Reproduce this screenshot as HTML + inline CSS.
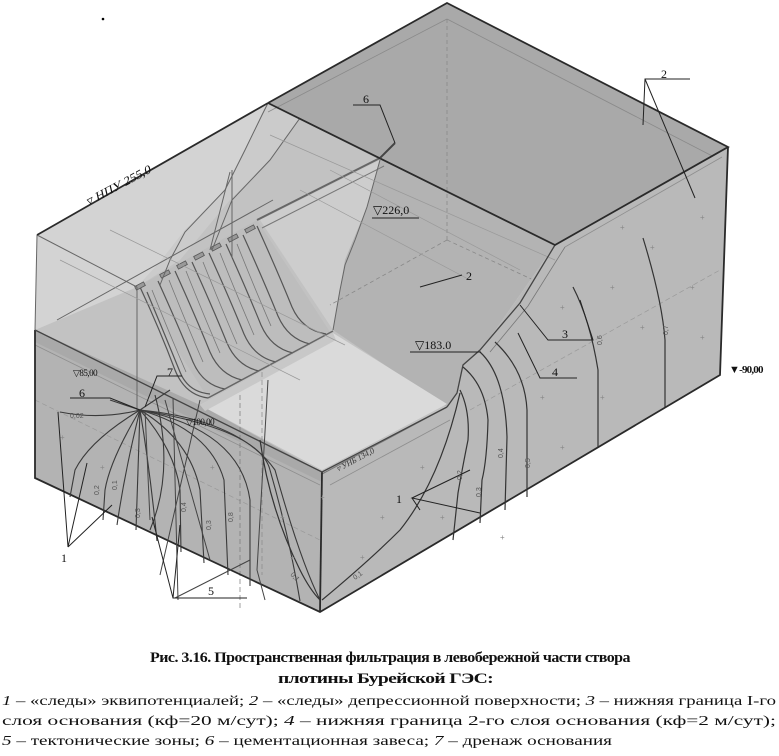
<!DOCTYPE html>
<html><head><meta charset="utf-8"><style>
html,body{margin:0;padding:0;background:#fff;}
svg{display:block;}
.t{font-family:"Liberation Serif",serif;}
.s{font-family:"Liberation Sans",sans-serif;}
</style></head><body>
<svg width="779" height="756" viewBox="0 0 779 756" xmlns="http://www.w3.org/2000/svg">
<rect width="779" height="756" fill="#fff"/>
<circle cx="103" cy="19" r="1.3" fill="#000"/>

<polygon points="37,235 268,103 555,245 480,352 447,407 322,473 35,330" fill="#c2c2c2"/>
<polygon points="37,235 268,103 262,115 245,150 225,190 185,230 160,262 137,287 35,330" fill="#d3d3d3"/>
<polygon points="268,103 300,118 270,160 255,175 230,200 180,260 137,287 160,262 185,230 225,190 245,150" fill="#cbcbcb"/>
<polygon points="380,160 367,207 345,260 340,290 333,330 260,220" fill="#cdcdcd"/>
<polygon points="300,118 447,188 555,245 480,352 463,365 457,393 447,407 333,330 345,260 367,207 380,160" fill="#b3b3b3"/>
<polygon points="268,103 447,3 728,147 555,245" fill="#a9a9a9"/>
<line x1="268" y1="112" x2="447" y2="19" stroke="#8a8a8a" stroke-width="0.8"/>
<line x1="447" y1="19" x2="720" y2="160" stroke="#8a8a8a" stroke-width="0.8"/>
<line x1="447" y1="19" x2="447" y2="240" stroke="#888" stroke-width="0.8" stroke-dasharray="4,3"/>
<line x1="447" y1="240" x2="555" y2="290" stroke="#888" stroke-width="0.8" stroke-dasharray="4,3"/>
<line x1="447" y1="240" x2="330" y2="305" stroke="#888" stroke-width="0.8" stroke-dasharray="4,3"/>
<polygon points="555,245 728,147 720,375 320,612 322,472 447,407 457,393 463,365 480,352" fill="#b9b9b9"/>
<line x1="565" y1="247" x2="722" y2="157" stroke="#8e8e8e" stroke-width="0.8"/>
<line x1="330" y1="485" x2="450" y2="420" stroke="#8e8e8e" stroke-width="0.8"/>
<line x1="470" y1="410" x2="720" y2="270" stroke="#999" stroke-width="0.7" stroke-dasharray="5,3"/>
<polygon points="35,330 322,472 320,612 35,478" fill="#b3b3b3"/>
<polygon points="35,330 200,405 322,472 322,482 35,342" fill="#a9a9a9"/>
<line x1="35" y1="345" x2="320" y2="485" stroke="#8e8e8e" stroke-width="0.8"/>
<line x1="35" y1="400" x2="320" y2="540" stroke="#999" stroke-width="0.7" stroke-dasharray="5,3"/>
<polygon points="200,405 333,333 447,404 322,470" fill="#dadada"/>
<polygon points="200,405 333,333 336,340 205,411" fill="#c8c8c8"/>
<line x1="447" y1="407" x2="322" y2="474" stroke="#777" stroke-width="1"/>
<line x1="240" y1="395" x2="240" y2="610" stroke="#777" stroke-width="0.7" stroke-dasharray="5,3"/>
<line x1="262" y1="372" x2="262" y2="575" stroke="#888" stroke-width="0.7" stroke-dasharray="5,3"/>
<polygon points="137,287 257,220 330,332 208,398" fill="#bdbdbd"/>
<line x1="257" y1="220" x2="380" y2="158" stroke="#666" stroke-width="2"/>
<line x1="262" y1="228" x2="384" y2="166" stroke="#777" stroke-width="1"/>
<g stroke="#555" stroke-width="1.2" fill="none">
<path d="M140,287 Q160,330 175,370 Q185,395 208,398"/>
<path d="M147,292 Q165,335 180,372 Q188,392 210,394"/>
<path d="M158,281 Q178,325 193,362 Q203,385 225,389"/>
<path d="M175,271 Q195,315 210,352 Q220,375 242,380"/>
<path d="M192,262 Q212,306 227,343 Q237,366 259,371"/>
<path d="M209,253 Q229,297 244,334 Q254,357 276,362"/>
<path d="M226,244 Q246,288 261,325 Q271,348 293,353"/>
<path d="M243,235 Q263,279 278,316 Q288,339 310,344"/>
<path d="M257,226 Q277,270 292,307 Q302,330 326,334"/>
</g>
<g stroke="#777" stroke-width="0.8" fill="none">
<path d="M152,290 Q170,335 186,372"/><path d="M169,280 Q187,325 203,362"/><path d="M186,271 Q204,316 220,353"/><path d="M203,262 Q221,307 237,344"/><path d="M220,253 Q238,298 254,335"/><path d="M237,244 Q255,289 271,326"/>
</g>
<g fill="#999" stroke="#555" stroke-width="0.8">
<rect x="135" y="284" width="10" height="4" transform="rotate(-28 140 286)"/>
<rect x="160" y="272" width="10" height="4" transform="rotate(-28 165 274)"/>
<rect x="177" y="263" width="10" height="4" transform="rotate(-28 182 265)"/>
<rect x="194" y="254" width="10" height="4" transform="rotate(-28 199 256)"/>
<rect x="211" y="245" width="10" height="4" transform="rotate(-28 216 247)"/>
<rect x="228" y="236" width="10" height="4" transform="rotate(-28 233 238)"/>
<rect x="245" y="227" width="10" height="4" transform="rotate(-28 250 229)"/>
</g>
<line x1="208" y1="398" x2="333" y2="331" stroke="#666" stroke-width="1.5"/>
<line x1="137" y1="287" x2="137" y2="410" stroke="#666" stroke-width="1"/>

<g stroke="#666" stroke-width="1" fill="none">
<path d="M268,103 L262,115 L245,150 L225,190 L185,232 L170,260 L160,285"/>
<path d="M300,118 L270,160 L232,200 L212,250"/>
<path d="M380,160 L367,207 L355,240 L345,265 L340,290 L333,330"/>
<path d="M230,172 L210,250 M232,170 L232,258"/>
<path d="M37,235 L137,287"/>
<path d="M57,320 L273,200"/>
</g>
<g stroke="#999" stroke-width="0.7" fill="none">
<path d="M60,260 L300,380 M110,230 L345,345 M300,190 L470,280 M330,170 L520,270 M270,135 L555,260"/>
</g>

<path d="M555,245 L520,303 L480,350 L463,365 L457,393 L447,407" stroke="#444" stroke-width="1.3" fill="none"/>
<path d="M565,247 L528,306 L490,352" stroke="#777" stroke-width="0.8" fill="none"/>

<g stroke="#2a2a2a" stroke-width="1.8" fill="none">
<path d="M268,103 L447,3 L728,147 L555,245 L268,103"/>
<path d="M728,147 L720,375 L320,612 L35,478 L35,330"/>
<path d="M37,235 L268,103"/>
<path d="M322,472 L320,612"/>
</g>
<path d="M35,330 L322,472 L447,407" stroke="#444" stroke-width="1.3" fill="none"/>
<path d="M37,235 L35,330" stroke="#666" stroke-width="1" fill="none"/>
<line x1="380" y1="158" x2="395" y2="143" stroke="#444" stroke-width="2"/>

<g stroke="#3a3a3a" stroke-width="1.1" fill="none">
<path d="M140,410 Q100,420 60,412"/>
<path d="M140,410 Q90,440 75,470 L70,497"/>
<path d="M140,410 Q110,460 105,490 L103,520"/>
<path d="M140,410 Q125,470 117,525"/>
<path d="M140,410 Q138,470 136,530"/>
<path d="M140,410 Q150,470 157,541"/>
<path d="M140,410 Q175,450 180,490 L181,552"/>
<path d="M140,410 Q190,440 200,490 L204,563"/>
<path d="M140,410 Q210,430 224,480 L228,575"/>
<path d="M140,410 Q240,430 250,500 L250,586"/>
<path d="M140,410 Q260,430 270,470 Q290,540 300,601"/>
<path d="M140,410 Q240,420 275,470 Q300,560 320,600"/>
<path d="M170,390 L140,410 L110,400"/>
<path d="M155,395 Q175,470 150,530"/>
</g>
<g stroke="#444" stroke-width="1" fill="none">
<path d="M145,410 L150,520 M165,400 L210,560 M200,400 L160,575 M173,398 L178,600"/>
<path d="M268,380 L257,570 L265,600 M250,560 L175,598"/>
</g>
<g stroke="#333" stroke-width="1.2" fill="none">
<path d="M460,390 Q470,410 468,440 Q462,470 458,493 L453,540"/>
<path d="M463,367 Q485,385 488,420 Q487,460 482,480 L480,523"/>
<path d="M480,352 Q505,375 507,437 L505,510"/>
<path d="M495,342 Q525,370 527,410 L527,497"/>
<path d="M573,287 Q590,320 598,370 L598,447"/>
<path d="M643,238 Q662,300 665,340 L665,407"/>
<path d="M460,393 Q440,480 400,530 Q370,560 322,600"/>
<path d="M260,440 Q270,510 300,570 Q310,590 320,600"/>
</g>

<g class="s" font-size="8" fill="#888">
<text x="620" y="230">+</text><text x="650" y="250">+</text><text x="700" y="220">+</text><text x="610" y="290">+</text><text x="690" y="290">+</text><text x="640" y="330">+</text><text x="700" y="340">+</text><text x="560" y="310">+</text><text x="540" y="400">+</text><text x="560" y="450">+</text><text x="420" y="470">+</text><text x="440" y="520">+</text><text x="380" y="520">+</text><text x="360" y="560">+</text><text x="280" y="520">+</text><text x="290" y="560">+</text><text x="210" y="470">+</text><text x="100" y="470">+</text><text x="60" y="440">+</text><text x="320" y="500">+</text><text x="600" y="400">+</text><text x="500" y="540">+</text>
</g>
<g class="s" font-size="7" fill="#555">
<text x="70" y="418">0,02</text>
<text transform="translate(503,458) rotate(-90)">0,4</text>
<text transform="translate(530,468) rotate(-90)">0,5</text>
<text transform="translate(602,345) rotate(-90)">0,6</text>
<text transform="translate(668,335) rotate(-90)">0,7</text>
<text transform="translate(481,497) rotate(-90)">0,3</text>
<text transform="translate(462,480) rotate(-90)">0,2</text>
<text transform="translate(99,495) rotate(-90)">0,2</text>
<text transform="translate(117,490) rotate(-90)">0,1</text>
<text transform="translate(140,518) rotate(-90)">0,3</text>
<text transform="translate(186,512) rotate(-90)">0,4</text>
<text transform="translate(211,530) rotate(-90)">0,3</text>
<text transform="translate(233,522) rotate(-90)">0,8</text>
<text transform="translate(290,575) rotate(45)">0,1</text>
<text transform="translate(355,580) rotate(-35)">0,1</text>
</g>

<g class="t" fill="#111">
<text transform="translate(88,206) rotate(-28) skewX(-15)" font-size="12" textLength="72" lengthAdjust="spacingAndGlyphs">▿ НПУ  255,0</text>
<text transform="translate(338,472) rotate(-28)" font-size="8" font-style="italic" fill="#333">▿ УНБ  134,0</text>
<text x="373" y="214" font-size="12">▽226,0</text>
<line x1="372" y1="218" x2="419" y2="218" stroke="#222"/>
<text x="415" y="349" font-size="12">▽183.0</text>
<line x1="410" y1="352" x2="481" y2="352" stroke="#222"/>
<text x="729" y="373" font-size="11" font-weight="bold" letter-spacing="-0.8">▼-90,00</text>
<text x="73" y="376" font-size="9" letter-spacing="-0.5">▽85,00</text>
<text x="186" y="425" font-size="9" letter-spacing="-0.5">▽100,00</text>
<text x="466" y="280" font-size="12">2</text>
<text x="661" y="78" font-size="12">2</text>
<text x="363" y="103" font-size="12">6</text>
<text x="79" y="397" font-size="12">6</text>
<text x="167" y="376" font-size="12">7</text>
<text x="562" y="338" font-size="12">3</text>
<text x="552" y="376" font-size="12">4</text>
<text x="396" y="503" font-size="12">1</text>
<text x="61" y="562" font-size="12">1</text>
<text x="208" y="595" font-size="12">5</text>
</g>
<g stroke="#222" stroke-width="1" fill="none">
<path d="M420,287 L462,275"/>
<path d="M690,79 L645,79 L643,125 M645,79 L695,198"/>
<path d="M353,105 L380,105 L395,143"/>
<path d="M70,398 L110,398 L140,410"/>
<path d="M182,376 L157,376 L145,407"/>
<path d="M520,305 L548,340 L593,340 L580,300"/>
<path d="M518,333 L540,378 L577,378"/>
<path d="M470,470 L412,498 L480,513 M412,498 L420,510"/>
<path d="M58,412 L68,547 L87,463 M68,547 L112,505"/>
<path d="M247,598 L173,598 L152,517 M173,598 L180,525"/>
</g>

<g class="t" fill="#111">
<text x="150" y="662" font-size="15" font-weight="bold" letter-spacing="-0.5" textLength="480" lengthAdjust="spacingAndGlyphs">Рис. 3.16. Пространственная фильтрация в левобережной части створа</text>
<text x="278" y="683" font-size="15" font-weight="bold" letter-spacing="-0.5" textLength="215" lengthAdjust="spacingAndGlyphs">плотины Бурейской ГЭС:</text>
<text x="2" y="705" font-size="14" textLength="774" lengthAdjust="spacingAndGlyphs"><tspan font-style="italic">1</tspan> – «следы» эквипотенциалей; <tspan font-style="italic">2</tspan> – «следы» депрессионной поверхности; <tspan font-style="italic">3</tspan> – нижняя граница I-го</text>
<text x="2" y="725" font-size="14" textLength="774" lengthAdjust="spacingAndGlyphs">слоя  основания  (кф=20  м/сут);  <tspan font-style="italic">4</tspan>  –  нижняя  граница  2-го  слоя  основания  (кф=2  м/сут);</text>
<text x="2" y="745" font-size="14" textLength="610" lengthAdjust="spacingAndGlyphs"><tspan font-style="italic">5</tspan> – тектонические зоны; <tspan font-style="italic">6</tspan> – цементационная завеса; <tspan font-style="italic">7</tspan> – дренаж основания</text>
</g>
</svg>
</body></html>
